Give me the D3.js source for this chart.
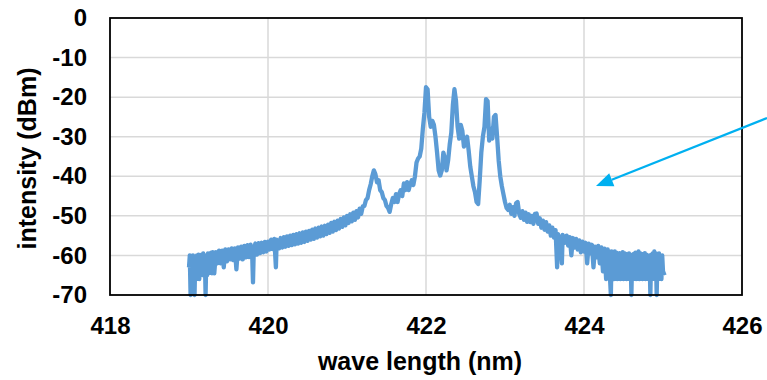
<!DOCTYPE html>
<html>
<head>
<meta charset="utf-8">
<script src="https://cdn.jsdelivr.net/npm/d3@7"></script>
<style>
  body { margin: 0; background: #ffffff; }
  text { font-family: "Liberation Sans", Arial, sans-serif; font-weight: bold; fill: #000000; }
</style>
</head>
<body>
<svg id="canvas" width="767" height="380"></svg>
<script>
// tick labels
let xTicks = [418, 420, 422, 424, 426];
let yTicks = [0, -10, -20, -30, -40, -50, -60, -70];

// spectrum, [wave length nm, intensity dBm]
let leftTail = [
  [419.00, -63], [419.01, -60], [419.02, -70], [419.03, -60.5], [419.04, -66], [419.05, -60],
  [419.06, -65], [419.07, -70], [419.08, -60.5], [419.09, -66], [419.10, -60], [419.11, -65],
  [419.12, -59.8], [419.13, -66], [419.14, -60], [419.15, -64], [419.16, -59.8], [419.17, -65],
  [419.18, -59.5], [419.19, -64], [419.20, -60], [419.21, -70], [419.22, -60], [419.23, -65],
  [419.24, -59.5], [419.25, -64.5], [419.26, -59.5], [419.27, -63], [419.28, -59.3], [419.29, -64.5],
  [419.30, -59.2], [419.32, -64.5], [419.34, -59.2], [419.36, -62], [419.38, -58.8], [419.40, -62],
  [419.42, -58.8], [419.44, -63], [419.46, -58.5], [419.48, -61.5], [419.50, -58.5], [419.52, -61],
  [419.54, -58.2], [419.56, -61.2], [419.58, -58.2], [419.60, -63.5], [419.62, -58], [419.64, -60.8],
  [419.66, -57.8], [419.68, -61], [419.70, -57.6], [419.72, -60.5], [419.74, -57.4], [419.76, -60.4],
  [419.78, -57.3], [419.80, -60], [419.81, -66.8], [419.82, -58.5], [419.84, -57], [419.86, -59.8],
  [419.88, -56.9], [419.90, -59.4], [419.92, -56.8], [419.94, -59.2], [419.96, -56.6], [419.98, -59],
  [420.00, -56.5]
];

let leftShoulder = [
  [420.02, -58.5], [420.04, -56], [420.06, -58.4], [420.08, -55.8], [420.10, -63], [420.11, -56],
  [420.14, -58.2], [420.16, -55.6], [420.18, -58], [420.20, -55.4], [420.22, -57.8], [420.24, -55.2],
  [420.26, -57.6], [420.28, -55], [420.30, -57.4], [420.32, -54.8], [420.34, -57.2], [420.36, -54.6],
  [420.38, -57], [420.40, -54.4], [420.42, -56.8], [420.44, -54.2], [420.46, -56.6], [420.48, -54],
  [420.50, -56.3], [420.52, -53.8], [420.54, -56], [420.56, -53.5], [420.58, -55.8], [420.60, -53.2],
  [420.62, -55.5], [420.64, -53], [420.66, -55.2], [420.68, -52.7], [420.70, -55], [420.72, -52.5],
  [420.74, -54.6], [420.76, -52.2], [420.78, -54.3], [420.80, -51.8], [420.82, -54], [420.84, -51.5],
  [420.86, -53.6], [420.88, -51.2], [420.90, -53.2], [420.92, -50.8], [420.94, -52.8], [420.96, -50.4],
  [420.98, -52.4], [421.00, -50], [421.02, -51.8], [421.04, -49.6], [421.06, -51.4], [421.08, -49.2],
  [421.10, -51], [421.12, -48.8], [421.14, -50.4], [421.16, -48.2], [421.18, -49.5], [421.20, -47.6],
  [421.22, -47.5], [421.24, -46], [421.26, -45.5], [421.28, -43.5], [421.30, -42], [421.32, -40],
  [421.34, -38.5], [421.36, -39.5], [421.38, -41.5], [421.40, -41], [421.42, -43.5], [421.44, -44],
  [421.46, -45.5], [421.48, -46], [421.50, -47.5], [421.52, -48], [421.54, -49], [421.56, -47],
  [421.58, -45.5], [421.60, -46.5], [421.62, -44.5], [421.64, -46.5], [421.66, -44.5], [421.68, -43.5],
  [421.70, -45], [421.72, -41.8], [421.74, -43.5], [421.76, -41.5], [421.78, -43.5], [421.80, -42],
  [421.82, -41], [421.84, -42.2], [421.86, -40]
];

let centerPeaks = [
  [421.88, -36.5], [421.90, -35.5], [421.92, -35], [421.94, -33], [421.96, -28], [421.98, -24],
  [422.00, -17.5], [422.02, -18], [422.04, -25], [422.06, -27.5], [422.08, -26], [422.10, -27],
  [422.12, -30], [422.14, -34], [422.16, -38.5], [422.18, -39.8], [422.20, -38.5], [422.22, -34],
  [422.24, -35.5], [422.26, -38.5], [422.28, -36], [422.30, -32], [422.32, -29], [422.34, -22],
  [422.36, -18], [422.38, -21], [422.40, -27.5], [422.42, -30.5], [422.44, -27], [422.46, -28.5],
  [422.48, -32.5], [422.50, -31], [422.52, -30], [422.54, -33.5], [422.56, -37.5], [422.58, -40],
  [422.60, -42.5], [422.62, -44], [422.64, -46.5], [422.66, -47], [422.68, -41], [422.70, -34],
  [422.72, -30], [422.74, -27.5], [422.76, -20.5], [422.78, -21], [422.80, -31], [422.82, -28],
  [422.84, -30.5], [422.86, -25], [422.88, -24.5], [422.90, -30], [422.92, -36], [422.94, -40],
  [422.96, -42.5], [422.98, -44.5]
];

let rightShoulder = [
  [423.00, -46.5], [423.02, -48], [423.04, -48.5], [423.06, -47.2], [423.08, -49.5], [423.10, -47.8],
  [423.12, -50], [423.14, -46.8], [423.16, -46.5], [423.18, -49.5], [423.20, -50.5], [423.22, -48.8],
  [423.24, -51], [423.26, -49.2], [423.28, -51.5], [423.30, -49.6], [423.32, -51.6], [423.34, -50],
  [423.36, -52], [423.38, -49.5], [423.40, -49.4], [423.42, -52], [423.44, -50.6], [423.46, -53],
  [423.48, -51.2], [423.50, -53.5], [423.52, -51.6], [423.54, -54], [423.56, -52.4], [423.58, -55],
  [423.60, -53], [423.62, -55.5], [423.64, -53.6], [423.66, -63], [423.67, -54.6], [423.70, -56.2],
  [423.72, -62], [423.73, -54.8], [423.76, -56.8], [423.78, -55], [423.80, -57.5], [423.82, -55.4],
  [423.84, -60], [423.86, -55.6], [423.88, -58], [423.90, -55.8], [423.92, -58.5], [423.94, -56.2],
  [423.96, -59.2], [423.98, -56.5]
];

let rightTail = [
  [424.00, -59], [424.02, -56.8], [424.04, -62], [424.06, -57], [424.08, -59.5], [424.10, -57.3],
  [424.12, -63], [424.14, -57.8], [424.16, -60.5], [424.18, -57.6], [424.20, -62], [424.22, -58],
  [424.24, -64], [424.26, -58.3], [424.28, -66], [424.30, -58.5], [424.31, -64], [424.32, -59],
  [424.33, -66], [424.34, -70], [424.35, -59], [424.36, -65], [424.37, -59.2], [424.38, -66],
  [424.39, -59], [424.40, -64], [424.41, -59.3], [424.42, -66], [424.43, -59.5], [424.44, -63],
  [424.45, -59.4], [424.46, -66], [424.47, -59.6], [424.48, -65], [424.49, -59.2], [424.50, -66],
  [424.51, -59.4], [424.52, -64], [424.53, -59.6], [424.54, -66], [424.55, -59.8], [424.56, -65],
  [424.57, -59.5], [424.58, -66], [424.59, -60], [424.60, -70], [424.61, -59.8], [424.62, -66],
  [424.63, -59.6], [424.64, -65], [424.65, -59.3], [424.66, -66], [424.67, -59.5], [424.68, -64],
  [424.69, -59], [424.70, -66], [424.71, -59.4], [424.72, -65], [424.73, -59.8], [424.74, -66],
  [424.75, -59.6], [424.76, -64], [424.77, -59.4], [424.78, -66], [424.79, -59.8], [424.80, -65],
  [424.81, -60], [424.82, -66], [424.83, -60.2], [424.84, -70], [424.85, -59.8], [424.86, -66],
  [424.87, -59.5], [424.88, -65], [424.89, -59], [424.90, -66], [424.91, -59.5], [424.92, -70],
  [424.93, -60], [424.94, -66], [424.95, -59.5], [424.96, -65], [424.97, -60], [424.98, -66],
  [424.99, -60], [425.00, -64], [425.02, -65]
];

let spectrum = leftTail.concat(leftShoulder, centerPeaks, rightShoulder, rightTail);

let canvas = d3.select("#canvas");

let plotLeft = 110;
let plotRight = 742;
let plotTop = 18;
let plotBottom = 295;

let xScale = d3.scaleLinear().domain([418, 426]).range([plotLeft, plotRight]);
let yScale = d3.scaleLinear().domain([-70, 0]).range([plotBottom, plotTop]);

// grid
canvas
  .append("g")
  .selectAll("line")
  .data(yTicks.filter((t) => t !== 0 && t !== -70))
  .enter()
  .append("line")
  .attr("x1", plotLeft)
  .attr("x2", plotRight)
  .attr("y1", (t) => yScale(t))
  .attr("y2", (t) => yScale(t))
  .attr("stroke", "#d9d9d9")
  .attr("stroke-width", 1.5);

canvas
  .append("g")
  .selectAll("line")
  .data(xTicks.filter((t) => t !== 418 && t !== 426))
  .enter()
  .append("line")
  .attr("x1", (t) => xScale(t))
  .attr("x2", (t) => xScale(t))
  .attr("y1", plotTop)
  .attr("y2", plotBottom)
  .attr("stroke", "#d9d9d9")
  .attr("stroke-width", 1.5);

// spectrum line
let line = d3
  .line()
  .x((d) => xScale(d[0]))
  .y((d) => yScale(d[1]));

canvas
  .append("path")
  .datum(spectrum)
  .attr("d", line)
  .attr("fill", "none")
  .attr("stroke", "#5b9bd5")
  .attr("stroke-width", 4.3)
  .attr("stroke-linejoin", "round");

// frame
canvas
  .append("rect")
  .attr("x", plotLeft)
  .attr("y", plotTop)
  .attr("width", plotRight - plotLeft)
  .attr("height", plotBottom - plotTop)
  .attr("fill", "none")
  .attr("stroke", "#000000")
  .attr("stroke-width", 1.8);

// axes labels
let xAxis = d3
  .axisBottom(xScale)
  .tickValues(xTicks)
  .tickFormat((d) => String(d))
  .tickSize(0)
  .tickPadding(22);
let yAxis = d3
  .axisLeft(yScale)
  .tickValues(yTicks)
  .tickFormat((d) => String(d))
  .tickSize(0)
  .tickPadding(23);

let gx = canvas.append("g").attr("transform", "translate(0," + plotBottom + ")").call(xAxis);
let gy = canvas.append("g").attr("transform", "translate(" + plotLeft + ",0)").call(yAxis);

[gx, gy].forEach((g) => {
  g.select(".domain").remove();
  g.selectAll("text")
    .style("font-family", '"Liberation Sans", Arial, sans-serif')
    .style("font-weight", "bold")
    .style("font-size", "24px")
    .attr("fill", "#000000");
});

canvas
  .append("text")
  .attr("x", (plotLeft + plotRight) / 2 - 6)
  .attr("y", 370)
  .attr("text-anchor", "middle")
  .style("font-size", "25px")
  .text("wave length (nm)");

canvas
  .append("text")
  .attr("transform", "translate(36," + ((plotTop + plotBottom) / 2 + 2) + ") rotate(-90)")
  .attr("text-anchor", "middle")
  .style("font-size", "25px")
  .text("intensity (dBm)");

// arrow
let arrowColor = "#00b0f0";
let tip = [596, 186];
let tail = [767, 118];
let angle = Math.atan2(tail[1] - tip[1], tail[0] - tip[0]);
let headLen = 17;
let headHalf = 7;
let baseX = tip[0] + headLen * Math.cos(angle);
let baseY = tip[1] + headLen * Math.sin(angle);

canvas
  .append("line")
  .attr("x1", tail[0])
  .attr("y1", tail[1])
  .attr("x2", baseX)
  .attr("y2", baseY)
  .attr("stroke", arrowColor)
  .attr("stroke-width", 2.2);

canvas
  .append("polygon")
  .attr(
    "points",
    [
      tip,
      [baseX + headHalf * Math.sin(angle), baseY - headHalf * Math.cos(angle)],
      [baseX - headHalf * Math.sin(angle), baseY + headHalf * Math.cos(angle)]
    ]
      .map((p) => p.join(","))
      .join(" ")
  )
  .attr("fill", arrowColor);
</script>
</body>
</html>
